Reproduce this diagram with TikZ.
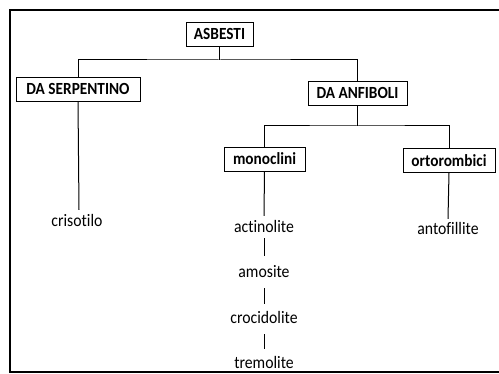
\documentclass[tikz,border=0pt]{standalone}
\usepackage{fontspec}
\setmainfont{Carlito}[Ligatures={NoCommon},FakeStretch=0.9]
\begin{document}
\begin{tikzpicture}[x=1pt,y=-1pt,
  catbox/.style={draw,line width=0.9pt,font=\bfseries\fontsize{17}{19}\selectfont,inner xsep=3pt,inner ysep=0pt,minimum height=24pt},
  leaf/.style={font=\fontsize{17.5}{19}\selectfont,inner sep=0pt,minimum height=22pt},
  conn/.style={line width=1pt}]
\useasboundingbox (0,0) rectangle (499,374);
\draw[line width=1.3pt] (501,10) -- (10,10) -- (10,372) -- (501,372);
\node[catbox,minimum width=67pt] (asb) at (219.5,34) {ASBESTI};
\node[catbox,minimum width=124pt] (serp) at (78,89) {DA SERPENTINO};
\node[catbox,minimum width=99pt] (anf) at (357.5,93) {DA ANFIBOLI};
\node[catbox,minimum width=81pt] (mono) at (264.5,159) {monoclini};
\node[catbox,minimum width=92pt] (orto) at (449,160.5) {ortorombici};
\node[leaf] (criso) at (77,220) {crisotilo};
\node[leaf] (actino) at (264,226) {actinolite};
\node[leaf] (antof) at (448,228) {antofillite};
\node[leaf] (amos) at (264,272) {amosite};
\node[leaf] (croci) at (264,317) {crocidolite};
\node[leaf] (tremo) at (264,362) {tremolite};
\coordinate (j1) at (219.5,60);
\coordinate (j2) at (357.5,126);
\draw[conn] (asb.south) -- (j1);
\draw[conn] (serp.north) |- (j1) -| (anf.north);
\draw[conn] (anf.south) -- (j2);
\draw[conn] (mono.north) |- (j2) -| (orto.north);
\draw[conn] (serp.south) -- ([xshift=2pt,yshift=-1pt]criso.north);
\draw[conn] (mono.south) -- ([yshift=-1pt]actino.north);
\draw[conn] (orto.south) -- ([yshift=-2pt]antof.north);
\draw[conn,shorten <=1pt,shorten >=5pt] (actino.south) -- (amos.north);
\draw[conn,shorten <=5pt,shorten >=2pt] (amos.south) -- (croci.north);
\draw[conn,shorten <=6pt,shorten >=2pt] (croci.south) -- (tremo.north);
\end{tikzpicture}
\end{document}
